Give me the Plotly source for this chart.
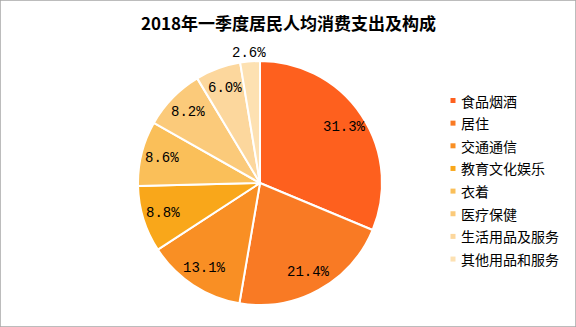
import math
import plotly.graph_objects as go

title_text = "2018年一季度居民人均消费支出及构成"
categories = ["食品烟酒", "居住", "交通通信", "教育文化娱乐", "衣着", "医疗保健", "生活用品及服务", "其他用品和服务"]
shares = [31.3, 21.4, 13.1, 8.8, 8.6, 8.2, 6.0, 2.6]
colors = ["#FE601E", "#F97A24", "#F98F24", "#F9A71A", "#FABF59", "#FBCA7A", "#FCD79D", "#FDE1B2"]

W, H = 576, 327
CX, CY, R = 260, 183, 122  # pie centre and radius in pixels

fig = go.Figure()
fig.add_trace(go.Pie(
    labels=categories,
    values=shares,
    sort=False,
    direction="clockwise",
    rotation=0,
    marker=dict(colors=colors, line=dict(color="#FFFFFF", width=2)),
    textinfo="none",
    domain=dict(x=[(CX - R) / W, (CX + R) / W], y=[(H - CY - R) / H, (H - CY + R) / H]),
    showlegend=False,
    hoverinfo="label+value",
))

annotations = []

# slice labels, positioned from the cumulative shares
total = sum(shares)
cum = 0.0
for v in shares:
    mid = (cum + v / 2) / total * 2 * math.pi
    cum += v
    frac = 0.83 if v >= 5 else 1.07
    px = CX + frac * R * math.sin(mid)
    py = CY - frac * R * math.cos(mid)
    annotations.append(dict(x=px / W, y=1 - py / H, xref="paper", yref="paper",
                            text=f"{v:.1f}%", showarrow=False, xanchor="center", yanchor="middle",
                            font=dict(family="Liberation Mono", size=14, color="#000000")))

# title
annotations.append(dict(x=288 / W, y=1 - 23 / H, xref="paper", yref="paper", text="<b>" + title_text + "</b>",
                        showarrow=False, xanchor="center", yanchor="middle",
                        font=dict(family="Noto Sans CJK SC", size=17, color="#000000")))

# legend (manual)
shapes = []
leg_x0 = 453
leg_y0 = 100.5
leg_step = 22.65
for i, (cat, col) in enumerate(zip(categories, colors)):
    yc = leg_y0 + i * leg_step
    shapes.append(dict(type="rect", xref="paper", yref="paper",
                       x0=(leg_x0 - 2.5) / W, x1=(leg_x0 + 2.5) / W,
                       y0=1 - (yc + 2.5) / H, y1=1 - (yc - 2.5) / H,
                       fillcolor=col, line=dict(width=0)))
    annotations.append(dict(x=(leg_x0 + 6) / W, y=1 - yc / H, xref="paper", yref="paper",
                            text=cat, showarrow=False, xanchor="left", yanchor="middle",
                            font=dict(family="Noto Sans CJK SC", size=14, color="#000000")))

# outer border
shapes.append(dict(type="rect", xref="paper", yref="paper", x0=0, x1=1, y0=0, y1=1,
                   line=dict(color="#A6A6A6", width=1.5), fillcolor="rgba(0,0,0,0)"))

fig.update_layout(
    width=W, height=H,
    margin=dict(l=0, r=0, t=0, b=0),
    paper_bgcolor="#FFFFFF",
    plot_bgcolor="#FFFFFF",
    annotations=annotations,
    shapes=shapes,
    showlegend=False,
)

fig.write_html("out.html")
